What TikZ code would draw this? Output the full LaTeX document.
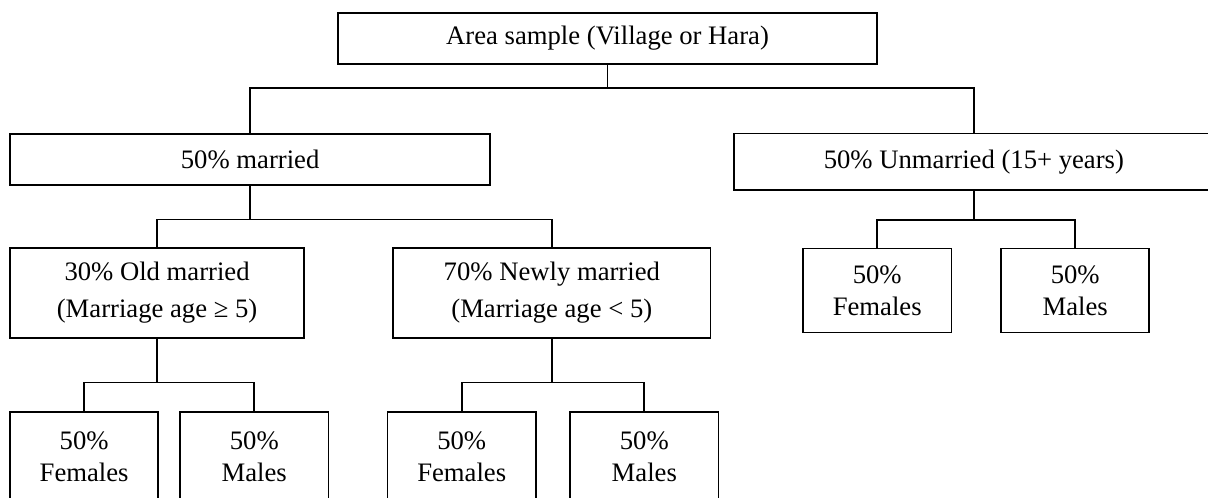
\documentclass[tikz,border=0pt]{standalone}
\usepackage{fontspec}
\setmainfont{Liberation Serif}
\begin{document}
\begin{tikzpicture}[
        node distance=2cm,
        thick,
        every node/.style={rectangle, draw=black, align=center, inner sep=2pt, font=\fontsize{12.8}{15.5}\selectfont},
        wide/.style={minimum width=8.1cm, minimum height=0.86cm},
        mid/.style={minimum width=#1, minimum height=1.52cm},
        leaf/.style={minimum width=2.5cm, minimum height=#1}
    ]
        \useasboundingbox (-10.25,0.65) rectangle (10.13,-7.75);

        \node (area) [minimum width=9.09cm, minimum height=0.86cm] {Area sample (Village or Hara)};

        \node (married) [wide, below of=area, xshift=-6.03cm, yshift=-0.04cm] {50\% married};
        \node (unmarried) [wide, below of=area, xshift=6.18cm, yshift=-0.08cm, minimum height=0.96cm] {50\% Unmarried (15+ years)};

        \node (old) [mid=4.96cm, below of=married, xshift=-1.57cm, yshift=-0.25cm] {30\% Old married\\[2pt](Marriage age ≥ 5)};
        \node (newm) [mid=5.35cm, below of=married, xshift=5.09cm, yshift=-0.25cm] {70\% Newly married\\[2pt](Marriage age < 5)};

        \node (unfem) [leaf=1.42cm, below of=unmarried, xshift=-1.63cm, yshift=-0.17cm] {50\%\\Females};
        \node (unmale) [leaf=1.42cm, below of=unmarried, xshift=1.71cm, yshift=-0.17cm] {50\%\\Males};

        \node (oldfem) [leaf=1.52cm, below of=old, xshift=-1.23cm, yshift=-0.77cm] {50\%\\Females};
        \node (oldmale) [leaf=1.52cm, below of=old, xshift=1.64cm, yshift=-0.77cm] {50\%\\Males};
        \node (newfem) [leaf=1.52cm, below of=newm, xshift=-1.52cm, yshift=-0.77cm] {50\%\\Females};
        \node (newmale) [leaf=1.52cm, below of=newm, xshift=1.56cm, yshift=-0.77cm] {50\%\\Males};

        \draw (area.south) -- ++(0,-0.39) coordinate (areabus);
        \draw (married.north) |- (areabus) -| (unmarried.north);
        \draw (married.south) -- ++(0,-0.57) coordinate (marbus);
        \draw (old.north) |- (marbus) -| (newm.north);
        \draw (unmarried.south) -- ++(0,-0.49) coordinate (unbus);
        \draw (unfem.north) |- (unbus) -| (unmale.north);
        \draw (old.south) -- ++(0,-0.74) coordinate (oldbus);
        \draw (oldfem.north) |- (oldbus) -| (oldmale.north);
        \draw (newm.south) -- ++(0,-0.74) coordinate (newbus);
        \draw (newfem.north) |- (newbus) -| (newmale.north);
    \end{tikzpicture}
\end{document}
